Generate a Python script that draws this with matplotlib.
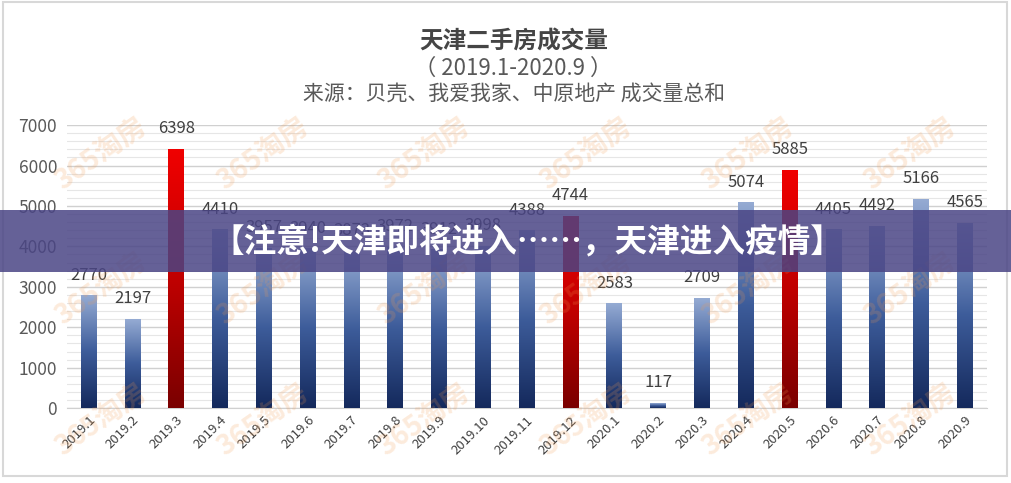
import matplotlib.pyplot as plt
import numpy as np
from matplotlib.colors import LinearSegmentedColormap
from matplotlib.patches import Rectangle

plt.rcParams['font.family'] = ['Noto Sans CJK SC', 'DejaVu Sans']

months = ["2019.1", "2019.2", "2019.3", "2019.4", "2019.5", "2019.6", "2019.7",
          "2019.8", "2019.9", "2019.10", "2019.11", "2019.12", "2020.1", "2020.2",
          "2020.3", "2020.4", "2020.5", "2020.6", "2020.7", "2020.8", "2020.9"]
volumes = [2770, 2197, 6398, 4410, 3957, 3940, 3873, 3972, 3912, 3998, 4388,
           4744, 2583, 117, 2709, 5074, 5885, 4405, 4492, 5166, 4565]
highlight = ["2019.3", "2019.12", "2020.5"]

title = "天津二手房成交量"
subtitle = "（ 2019.1-2020.9 ）"
source = "来源：贝壳、我爱我家、中原地产 成交量总和"
banner = "【注意!天津即将进入……，天津进入疫情】"

blue = LinearSegmentedColormap.from_list("b", ["#14295c", "#3d5c9a", "#95abd3"])
red = LinearSegmentedColormap.from_list("r", ["#7a0000", "#c00000", "#f00000"])
grad = np.linspace(0, 1, 256).reshape(-1, 1)

fig = plt.figure(figsize=(10.11, 4.83), dpi=100)
ax = fig.add_axes([0.066, 0.155, 0.91, 0.586])

x = np.arange(len(months))
w = 0.36
for i, (m, v) in enumerate(zip(months, volumes)):
    cmap = red if m in highlight else blue
    ax.imshow(grad, extent=[i - w / 2, i + w / 2, 0, v], origin="lower",
              aspect="auto", cmap=cmap, zorder=3)
    ax.text(i, v + 300, str(v), ha="center", va="bottom", fontsize=12,
            color="#404040", zorder=4)

ax.set_xlim(-0.5, len(months) - 0.5)
ax.set_ylim(0, 7000)
ax.set_yticks(range(0, 7001, 1000))
ax.set_yticks(range(0, 7001, 200), minor=True)
ax.tick_params(axis="y", which="both", length=0, labelsize=12.5, labelcolor="#595959", pad=7)
ax.set_xticks(x)
ax.set_xticklabels(months, rotation=45, ha="right", rotation_mode="anchor",
                   fontsize=9.5, color="#404040")
ax.tick_params(axis="x", length=0, pad=4)
ax.grid(axis="y", which="major", color="#d0d0d0", linewidth=1.0, zorder=0)
ax.grid(axis="y", which="minor", color="#e6e6e6", linewidth=0.8, zorder=0)
for s in ["top", "right", "left"]:
    ax.spines[s].set_visible(False)
ax.spines["bottom"].set_color("#d0d0d0")

fig.text(0.508, 0.913, title, ha="center", va="center", fontsize=17,
         fontweight="bold", color="#454545")
fig.text(0.508, 0.858, subtitle, ha="center", va="center", fontsize=16, color="#595959")
fig.text(0.508, 0.806, source, ha="center", va="center", fontsize=15, color="#595959")

# watermarks
for wx in [0.10, 0.26, 0.42, 0.58, 0.74, 0.90]:
    for wy in [0.68, 0.40, 0.13]:
        fig.text(wx, wy, "365淘房", rotation=35, ha="center", va="center",
                 fontsize=20, fontweight="bold", color="#f39a50", alpha=0.2)

# banner
fig.patches.append(Rectangle((0, 0.437), 1, 0.128, transform=fig.transFigure,
                             facecolor="#4a4585", alpha=0.85, zorder=10))
fig.text(0.522, 0.500, banner, ha="center", va="center", fontsize=23.5,
         fontweight="bold", color="white", zorder=11)

fig.patches.append(Rectangle((0.003, 0.015), 0.993, 0.98, transform=fig.transFigure,
                             fill=False, edgecolor="#d8d8d8", linewidth=1.5))

fig.savefig("out.png", dpi=100)
